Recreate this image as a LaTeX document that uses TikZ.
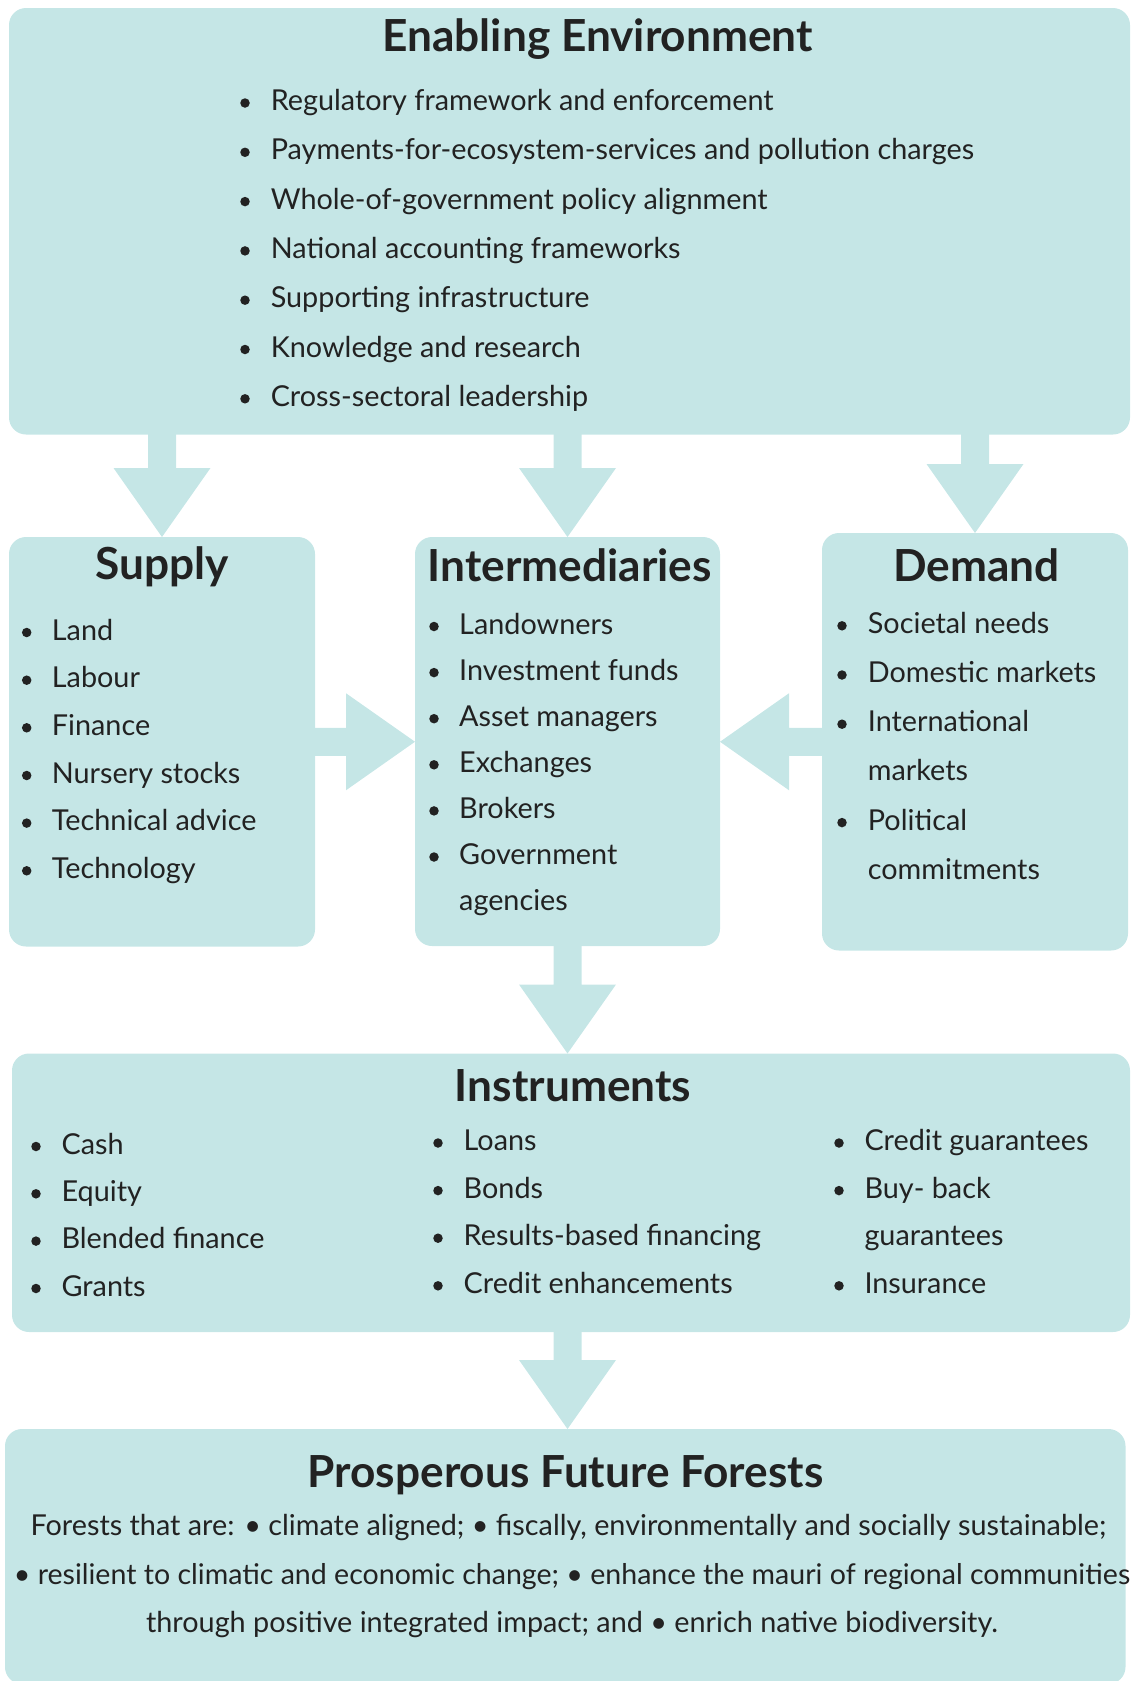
\documentclass[tikz,border=0pt]{standalone}
\usepackage{fontspec}
\setmainfont{Lato}
\usetikzlibrary{calc}
\definecolor{panel}{HTML}{C5E6E6}
\definecolor{ink}{HTML}{222222}

% Broad block arrow from #1 to #2 (tip lands on #2)
\newcommand\blockarrow[2]{%
  \coordinate (ba-a) at (#1);
  \coordinate (ba-t) at (#2);
  \coordinate (ba-s) at ($(ba-a)!-2pt!(ba-t)$);
  \coordinate (ba-h) at ($(ba-t)!69pt!(ba-s)$);
  \fill[panel] ($(ba-s)!14pt!90:(ba-t)$) -- ($(ba-h)!14pt!90:(ba-t)$)
    -- ($(ba-h)!48.5pt!90:(ba-t)$) -- (ba-t) -- ($(ba-h)!48.5pt!-90:(ba-t)$)
    -- ($(ba-h)!14pt!-90:(ba-t)$) -- ($(ba-s)!14pt!-90:(ba-t)$) -- cycle;
}

% One bulleted line: name, bullet x, text x, baseline y, text
\newcommand\listline[5]{%
  \node[bulletdot] (#1-dot) at (#2,#4-7.5) {};
  \node[itemtext] (#1) at (#3,#4) {#5};
}
% Continuation line without bullet: name, text x, baseline y, text
\newcommand\contline[4]{%
  \node[itemtext] (#1) at (#2,#3) {#4};
}

\begin{document}
\begin{tikzpicture}[x=1pt,y=-1pt,
  panelbox/.style={fill=panel, rounded corners=17pt, draw=none, outer sep=0pt,
    inner sep=0pt, anchor=north west},
  heading/.style={font=\fontsize{44.2}{50}\selectfont\bfseries, text=ink,
    inner sep=0pt, anchor=base},
  itemtext/.style={font=\fontsize{28.8}{34}\selectfont, text=ink, inner sep=0pt,
    anchor=base west},
  bulletdot/.style={circle, fill=ink, minimum size=9.5pt, inner sep=0pt},
  bodyline/.style={font=\fontsize{28.8}{34}\selectfont, text=ink, inner sep=0pt,
    anchor=base},
]
\useasboundingbox (0,0) rectangle (1132,1681);

% Panels
\node[panelbox, minimum width=1121pt, minimum height=426.5pt] (ee) at (9,8) {};
\node[panelbox, minimum width=306pt, minimum height=409.5pt] (supply) at (9,537) {};
\node[panelbox, minimum width=305pt, minimum height=409pt] (inter) at (415,537) {};
\node[panelbox, minimum width=306pt, minimum height=417.5pt] (demand) at (822,533) {};
\node[panelbox, minimum width=1118pt, minimum height=278.5pt] (instr) at (12,1053.5) {};
\node[panelbox, minimum width=1120.5pt, minimum height=255pt] (pff) at (5,1429) {};

% Flow arrows
\blockarrow{ee.south -| supply.north}{supply.north}
\blockarrow{ee.south -| inter.north}{inter.north}
\blockarrow{ee.south -| demand.north}{demand.north}
\blockarrow{supply.east}{supply.east -| inter.west}
\blockarrow{demand.west}{demand.west -| inter.east}
\blockarrow{inter.south}{inter.south |- instr.north}
\blockarrow{instr.south -| inter.south}{pff.north -| inter.south}

% Enabling Environment
\node[heading] (ee-title) at (597.6,51.8) {Enabling Environment};
\listline{ee1}{245}{270.6}{110.5}{Regulatory framework and enforcement}
\listline{ee2}{245}{270.6}{159.8}{Payments-for-ecosystem-services and pollution charges}
\listline{ee3}{245}{270.6}{209.1}{Whole-of-government policy alignment}
\listline{ee4}{245}{270.6}{258.4}{National accounting frameworks}
\listline{ee5}{245}{270.6}{307.7}{Supporting infrastructure}
\listline{ee6}{245}{270.6}{357.0}{Knowledge and research}
\listline{ee7}{245}{270.6}{406.3}{Cross-sectoral leadership}

% Supply
\node[heading] (supply-title) at (162.5,579.3) {Supply};
\listline{su1}{26.7}{51.7}{640}{Land}
\listline{su2}{26.7}{51.7}{687.7}{Labour}
\listline{su3}{26.7}{51.7}{735.3}{Finance}
\listline{su4}{26.7}{51.7}{783.0}{Nursery stocks}
\listline{su5}{26.7}{51.7}{830.6}{Technical advice}
\listline{su6}{26.7}{51.7}{878.3}{Technology}

% Intermediaries
\node[heading] (inter-title) at (569.8,581) {Intermediaries};
\listline{in1}{434}{459}{634}{Landowners}
\listline{in2}{434}{459}{680.1}{Investment funds}
\listline{in3}{434}{459}{726.2}{Asset managers}
\listline{in4}{434}{459}{772.3}{Exchanges}
\listline{in5}{434}{459}{818.4}{Brokers}
\listline{in6}{434}{459}{864.5}{Government}
\contline{in7}{459}{910.6}{agencies}

% Demand
\node[heading] (demand-title) at (976.5,581) {Demand};
\listline{de1}{842}{867.7}{633.3}{Societal needs}
\listline{de2}{842}{867.7}{682.5}{Domestic markets}
\listline{de3}{842}{867.7}{731.7}{International}
\contline{de4}{867.7}{780.9}{markets}
\listline{de5}{842}{867.7}{830.1}{Political}
\contline{de6}{867.7}{879.3}{commitments}

% Instruments
\node[heading] (instr-title) at (573,1101.7) {Instruments};
\listline{ia1}{36}{61.4}{1154}{Cash}
\listline{ia2}{36}{61.4}{1201.3}{Equity}
\listline{ia3}{36}{61.4}{1248.6}{Blended finance}
\listline{ia4}{36}{61.4}{1296}{Grants}
\listline{ib1}{438}{463.5}{1150.5}{Loans}
\listline{ib2}{438}{463.5}{1198.1}{Bonds}
\listline{ib3}{438}{463.5}{1245.7}{Results-based financing}
\listline{ib4}{438}{463.5}{1293.3}{Credit enhancements}
\listline{ic1}{839}{864.3}{1150.5}{Credit guarantees}
\listline{ic2}{839}{864.3}{1198.1}{Buy- back}
\contline{ic3}{864.3}{1245.7}{guarantees}
\listline{ic4}{839}{864.3}{1293.3}{Insurance}

% Prosperous Future Forests
\node[heading] (pff-title) at (565.6,1487) {Prosperous Future Forests};
\node[bodyline] (pff1) at (568.5,1535) {Forests that are: • climate aligned; • fiscally, environmentally and socially sustainable;};
\node[bodyline, font=\fontsize{28.55}{34}\selectfont] (pff2) at (572,1584) {• resilient to climatic and economic change; • enhance the mauri of regional communities};
\node[bodyline] (pff3) at (572,1632.7) {through positive integrated impact; and • enrich native biodiversity.};
\end{tikzpicture}
\end{document}
